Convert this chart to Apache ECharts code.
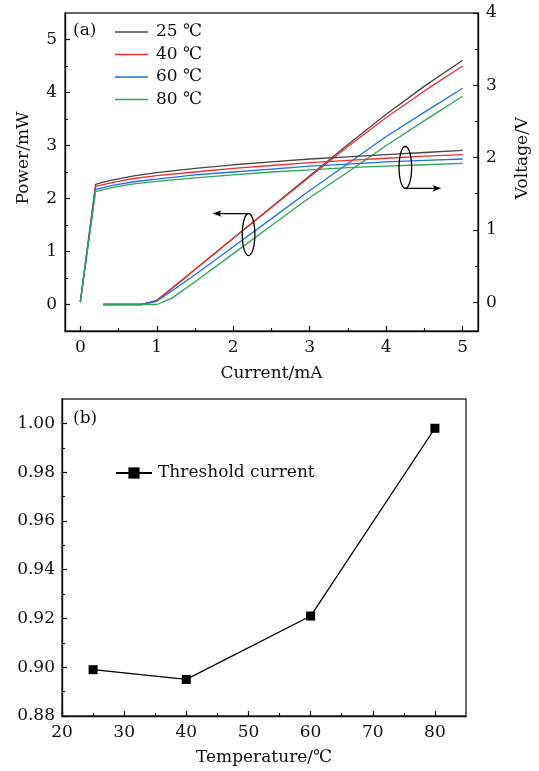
<!DOCTYPE html>
<html>
<head>
<meta charset="utf-8">
<script src="https://cdn.jsdelivr.net/npm/echarts@6/dist/echarts.min.js"></script>
<style>
  html, body { margin: 0; padding: 0; background: #fff; }
  #chart { width: 539px; height: 771px; }
</style>
</head>
<body>
<div id="chart"></div>
<script>
// (a) Output power and voltage versus injection current
const temps = ['25 ℃', '40 ℃', '60 ℃', '80 ℃'];
const colors = ['#474747', '#ef3030', '#2270e0', '#2ea55c'];

const powerCurrent = [0.3, 0.5, 0.8, 1.0, 1.2, 1.5, 2, 2.5, 3, 3.5, 4, 4.5, 5];
const power25 = [0, 0, 0, 0.08, 0.31, 0.66, 1.25, 1.84, 2.43, 3.02, 3.59, 4.12, 4.61];
const power40 = [0, 0, 0, 0.07, 0.30, 0.66, 1.25, 1.83, 2.41, 2.98, 3.53, 4.03, 4.50];
const power60 = [0, 0, 0, 0.06, 0.26, 0.56, 1.09, 1.62, 2.15, 2.66, 3.17, 3.63, 4.08];
const power80 = [0, 0, 0, 0, 0.12, 0.43, 0.96, 1.49, 2.02, 2.50, 3.00, 3.47, 3.93];

const voltCurrent = [0, 0.2, 0.3, 0.4, 0.5, 0.7, 1, 1.5, 2, 2.5, 3, 3.5, 4, 4.5, 5];
const volt25 = [0, 1.63, 1.66, 1.685, 1.705, 1.745, 1.79, 1.85, 1.90, 1.94, 1.98, 2.01, 2.04, 2.07, 2.10];
const volt40 = [0, 1.60, 1.625, 1.65, 1.67, 1.71, 1.75, 1.80, 1.85, 1.89, 1.93, 1.96, 1.99, 2.02, 2.04];
const volt60 = [0, 1.56, 1.585, 1.61, 1.63, 1.665, 1.70, 1.76, 1.80, 1.84, 1.88, 1.91, 1.94, 1.96, 1.98];
const volt80 = [0, 1.53, 1.555, 1.58, 1.60, 1.635, 1.67, 1.72, 1.76, 1.80, 1.83, 1.86, 1.88, 1.90, 1.92];

const currentTicks = [0, 1, 2, 3, 4, 5];
const currentMinor = [0.5, 1.5, 2.5, 3.5, 4.5];
const powerTicks = [0, 1, 2, 3, 4, 5];
const powerMinor = [0.5, 1.5, 2.5, 3.5, 4.5];
const voltTicks = [0, 1, 2, 3, 4];
const voltMinor = [0.5, 1.5, 2.5, 3.5];

// (b) Threshold current versus temperature
const temperature = [25, 40, 60, 80];
const threshold = [0.899, 0.895, 0.921, 0.998];
const tempTicks = [20, 30, 40, 50, 60, 70, 80];
const tempMinor = [25, 35, 45, 55, 65, 75];
const thrTicks = [0.88, 0.90, 0.92, 0.94, 0.96, 0.98, 1.00];
const thrMinor = [0.89, 0.91, 0.93, 0.95, 0.97, 0.99];

const FONT = 'DejaVu Serif';
const FS = 17;
const INK = '#111';

const pair = (xs, ys) => xs.map((x, i) => [x, ys[i]]);
const powers = [power25, power40, power60, power80];
const volts = [volt25, volt40, volt60, volt80];

function mainAxis(opts) {
  return Object.assign({
    type: 'value',
    axisLine: { show: true, onZero: false, lineStyle: { color: INK, width: 1.4 } },
    splitLine: { show: false },
    nameTextStyle: { color: INK, fontFamily: FONT, fontSize: FS }
  }, opts);
}
function minorAxis(opts) {
  return Object.assign({
    type: 'value',
    axisLine: { show: false, onZero: false },
    axisLabel: { show: false },
    splitLine: { show: false }
  }, opts);
}
const majorTick = vals => ({ show: true, inside: true, length: 5, customValues: vals, lineStyle: { color: INK, width: 1.2 } });
const minorTick = vals => ({ show: true, inside: true, length: 3, customValues: vals, lineStyle: { color: INK, width: 1.1 } });
const tickLabel = (vals, extra) => Object.assign({ color: INK, fontFamily: FONT, fontSize: FS, margin: 8, customValues: vals }, extra || {});

const series = [];
temps.forEach((name, i) => {
  series.push({
    name, type: 'line', xAxisIndex: 0, yAxisIndex: 0,
    data: pair(powerCurrent, powers[i]), symbol: 'none',
    lineStyle: { color: colors[i], width: 1.3 }, itemStyle: { color: colors[i] }
  });
});
temps.forEach((name, i) => {
  series.push({
    name, type: 'line', xAxisIndex: 0, yAxisIndex: 1,
    data: pair(voltCurrent, volts[i]), symbol: 'none',
    lineStyle: { color: colors[i], width: 1.3 }, itemStyle: { color: colors[i] }
  });
});
series.push({
  name: 'Threshold current', type: 'line', xAxisIndex: 2, yAxisIndex: 4,
  data: pair(temperature, threshold), symbol: 'rect', symbolSize: 9,
  lineStyle: { color: '#000', width: 1.3 }, itemStyle: { color: '#000' }
});

const chart = echarts.init(document.getElementById('chart'), null, { renderer: 'canvas' });

chart.setOption({
  backgroundColor: '#fff',
  animation: false,
  textStyle: { fontFamily: FONT },
  title: [
    { text: '(a)', left: 68, top: 17, textStyle: { fontFamily: FONT, fontSize: FS, fontWeight: 'normal', color: INK } },
    { text: '(b)', left: 68, top: 405, textStyle: { fontFamily: FONT, fontSize: FS, fontWeight: 'normal', color: INK } }
  ],
  legend: [
    {
      data: temps, orient: 'vertical', left: 110, top: 18,
      icon: 'rect', itemWidth: 33, itemHeight: 1.6, itemGap: 4.5,
      textStyle: { fontFamily: FONT, fontSize: FS, color: INK, lineHeight: 18, padding: [0, 0, 0, 3] }
    },
    {
      data: ['Threshold current'], orient: 'vertical', left: 110, top: 459,
      itemWidth: 36, itemHeight: 14,
      textStyle: { fontFamily: FONT, fontSize: FS, color: INK, lineHeight: 18, padding: [0, 0, 0, 1] }
    }
  ],
  grid: [
    { left: 65, right: 58, top: 13, bottom: 440, show: true, borderColor: '#333', borderWidth: 1.4, backgroundColor: 'transparent' },
    { left: 62, right: 73, top: 399, bottom: 55, show: true, borderColor: '#333', borderWidth: 1.4, backgroundColor: 'transparent' }
  ],
  xAxis: [
    mainAxis({
      gridIndex: 0, position: 'bottom', min: -0.2, max: 5.2,
      name: 'Current/mA', nameLocation: 'middle', nameGap: 34,
      axisTick: majorTick(currentTicks), axisLabel: tickLabel(currentTicks)
    }),
    minorAxis({ gridIndex: 0, position: 'bottom', min: -0.2, max: 5.2, axisTick: minorTick(currentMinor) }),
    mainAxis({
      gridIndex: 1, position: 'bottom', min: 20, max: 85,
      name: 'Temperature/℃', nameLocation: 'middle', nameGap: 33,
      axisTick: majorTick(tempTicks), axisLabel: tickLabel(tempTicks)
    }),
    minorAxis({ gridIndex: 1, position: 'bottom', min: 20, max: 85, axisTick: minorTick(tempMinor) })
  ],
  yAxis: [
    mainAxis({
      gridIndex: 0, position: 'left', min: -0.5, max: 5.5,
      name: 'Power/mW', nameLocation: 'middle', nameGap: 33, nameRotate: 90,
      nameTextStyle: { color: INK, fontFamily: FONT, fontSize: FS, padding: [0, 0, 0, 28] },
      axisTick: majorTick(powerTicks), axisLabel: tickLabel(powerTicks)
    }),
    mainAxis({
      gridIndex: 0, position: 'right', min: -0.4, max: 4,
      name: 'Voltage/V', nameLocation: 'middle', nameGap: 36, nameRotate: 90,
      nameTextStyle: { color: INK, fontFamily: FONT, fontSize: FS, padding: [0, 0, 0, 28] },
      axisTick: majorTick(voltTicks), axisLabel: tickLabel(voltTicks)
    }),
    minorAxis({ gridIndex: 0, position: 'left', min: -0.5, max: 5.5, axisTick: minorTick(powerMinor) }),
    minorAxis({ gridIndex: 0, position: 'right', min: -0.4, max: 4, axisTick: minorTick(voltMinor) }),
    mainAxis({
      gridIndex: 1, position: 'left', min: 0.88, max: 1.01,
      axisTick: majorTick(thrTicks),
      axisLabel: tickLabel(thrTicks, { margin: 7, formatter: v => v.toFixed(2) })
    }),
    minorAxis({ gridIndex: 1, position: 'left', min: 0.88, max: 1.01, axisTick: minorTick(thrMinor) })
  ],
  series
});

// Ellipse-and-arrow markers that tie each curve family to its axis
function annotate() {
  const p = (xy, yAxisIndex) => chart.convertToPixel({ xAxisIndex: 0, yAxisIndex }, xy);
  const arrowHead = (tip, dir) => {
    const L = 9, H = 3.3, N = 2.5;
    return [
      [tip[0], tip[1]],
      [tip[0] - dir * L, tip[1] - H],
      [tip[0] - dir * (L - N), tip[1]],
      [tip[0] - dir * L, tip[1] + H]
    ];
  };
  const ring = (c, rx, ry) => {
    const pts = [];
    for (let k = 0; k < 60; k++) {
      const t = (k / 60) * Math.PI * 2;
      pts.push([c[0] + rx * Math.cos(t), c[1] + ry * Math.sin(t)]);
    }
    return pts;
  };
  const RY = 21, RX = 6.3;
  const items = [];
  // power family -> left axis
  const c1 = p([2.2, 1.32], 0);
  const e1 = p([1.73, 0], 0);
  items.push({ type: 'polygon', shape: { points: ring(c1, RX, RY) },
    style: { fill: 'none', stroke: '#000', lineWidth: 1.3 }, z: 100 });
  items.push({ type: 'line', shape: { x1: c1[0], y1: c1[1] - RY, x2: e1[0] + 4, y2: c1[1] - RY },
    style: { stroke: '#000', lineWidth: 1.2 }, z: 100 });
  items.push({ type: 'polygon', shape: { points: arrowHead([e1[0], c1[1] - RY], -1) },
    style: { fill: '#000' }, z: 100 });
  // voltage family -> right axis
  const c2 = p([4.25, 1.864], 1);
  const e2 = p([4.72, 0], 1);
  items.push({ type: 'polygon', shape: { points: ring(c2, RX, RY) },
    style: { fill: 'none', stroke: '#000', lineWidth: 1.3 }, z: 100 });
  items.push({ type: 'line', shape: { x1: c2[0], y1: c2[1] + RY, x2: e2[0] - 4, y2: c2[1] + RY },
    style: { stroke: '#000', lineWidth: 1.2 }, z: 100 });
  items.push({ type: 'polygon', shape: { points: arrowHead([e2[0], c2[1] + RY], 1) },
    style: { fill: '#000' }, z: 100 });
  chart.setOption({ graphic: items });
}
annotate();
</script>
</body>
</html>
